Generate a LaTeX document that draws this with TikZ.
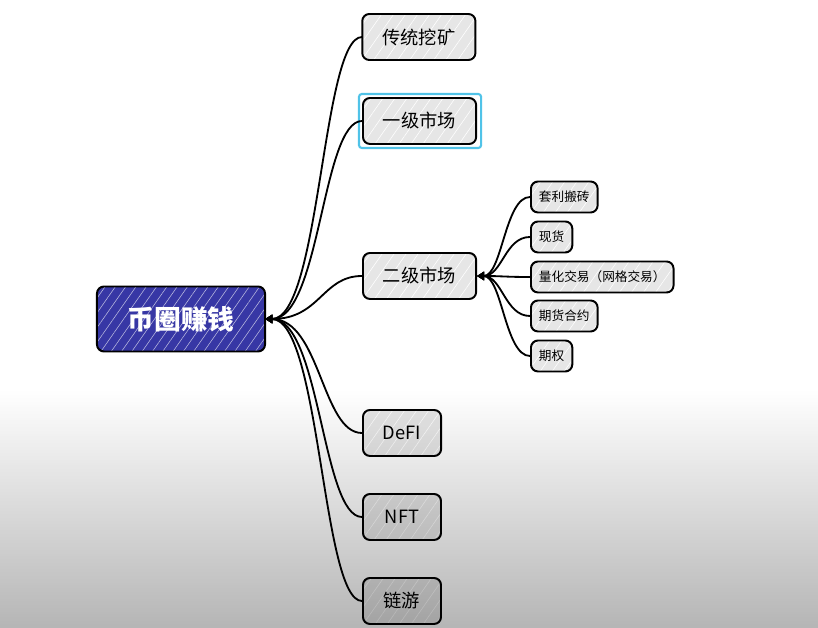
\documentclass[tikz,border=0pt]{standalone}
\usepackage{fontspec}
\setmainfont{Noto Sans CJK SC}
\usetikzlibrary{fadings, patterns.meta, arrows.meta}
\definecolor{rootblue}{RGB}{55, 55, 165}
\definecolor{boxgray}{RGB}{230, 230, 230}
\definecolor{selcyan}{RGB}{80, 195, 232}

\begin{document}
\begin{tikzpicture}[x=0.025cm, y=-0.025cm,
		root/.style={draw=black, preaction={fill=rootblue}, line width=1.4pt, rounded corners=5pt,
			pattern={Lines[angle=55, distance=6pt, line width=0.4pt]}, pattern color=white!65!rootblue,
			text=white, font=\fontsize{19}{22}\selectfont\bfseries,
			minimum width=4.2cm, minimum height=1.625cm},
		box/.style={draw=black, preaction={fill=boxgray}, line width=1.4pt, rounded corners=5pt,
			pattern={Lines[angle=55, distance=7pt, line width=0.4pt]}, pattern color=white,
			font=\fontsize{13}{15}\selectfont, inner xsep=0.5cm,
			minimum width=1.95cm, minimum height=1.15cm, anchor=west},
		sbox/.style={box, font=\fontsize{9}{11}\selectfont, inner xsep=0.2cm,
			minimum width=1cm, minimum height=0.775cm},
		fold/.style={{Triangle[width=6pt, length=5pt]}-, line width=1.3pt}]
	
	%% ── canvas ──
	\useasboundingbox (0,0) rectangle (818,628);
	\fill[white] (0,0) rectangle (818,628);
	
	%% ── root ──
	\node[root] (money) at (181,319) {币圈赚钱};
	
	%% ── first level ──
	\node[box] (mine) at (362,37) {传统挖矿};
	\node[box] (prim) at (362,121) {一级市场};
	\node[box] (sec) at (362,276) {二级市场};
	\node[box] (defi) at (362,433) {DeFI};
	\node[box] (nft) at (362,517) {NFT};
	\node[box] (game) at (362,601) {链游};
	
	%% ── second level (二级市场) ──
	\node[sbox] (arb) at (530,197) {套利搬砖};
	\node[sbox] (spot) at (530,237) {现货};
	\node[sbox] (quant) at (530,277) {量化交易（网格交易）};
	\node[sbox] (fut) at (530,316) {期货合约};
	\node[sbox] (opt) at (530,356) {期权};
	
	%% ── selection frame ──
	\draw[selcyan, line width=1.5pt, rounded corners=2pt]
	([shift={(-3,-3)}]prim.north west) rectangle ([shift={(4,3)}]prim.south east);
	
	%% ── connectors ──
	\foreach \c in {mine, prim, sec, defi, nft, game}
	\draw[fold] (money.east) .. controls +(55,0) and +(-40,0) .. (\c.west);
	
	\foreach \c in {arb, spot, quant, fut, opt}
	\draw[fold] (sec.east) .. controls +(25,0) and +(-25,0) .. (\c.west);
	
	%% ── shadow at the bottom ──
	\fill[black, opacity=0.29, path fading=north] (0,390) rectangle (818,628);
	
\end{tikzpicture}
\end{document}
